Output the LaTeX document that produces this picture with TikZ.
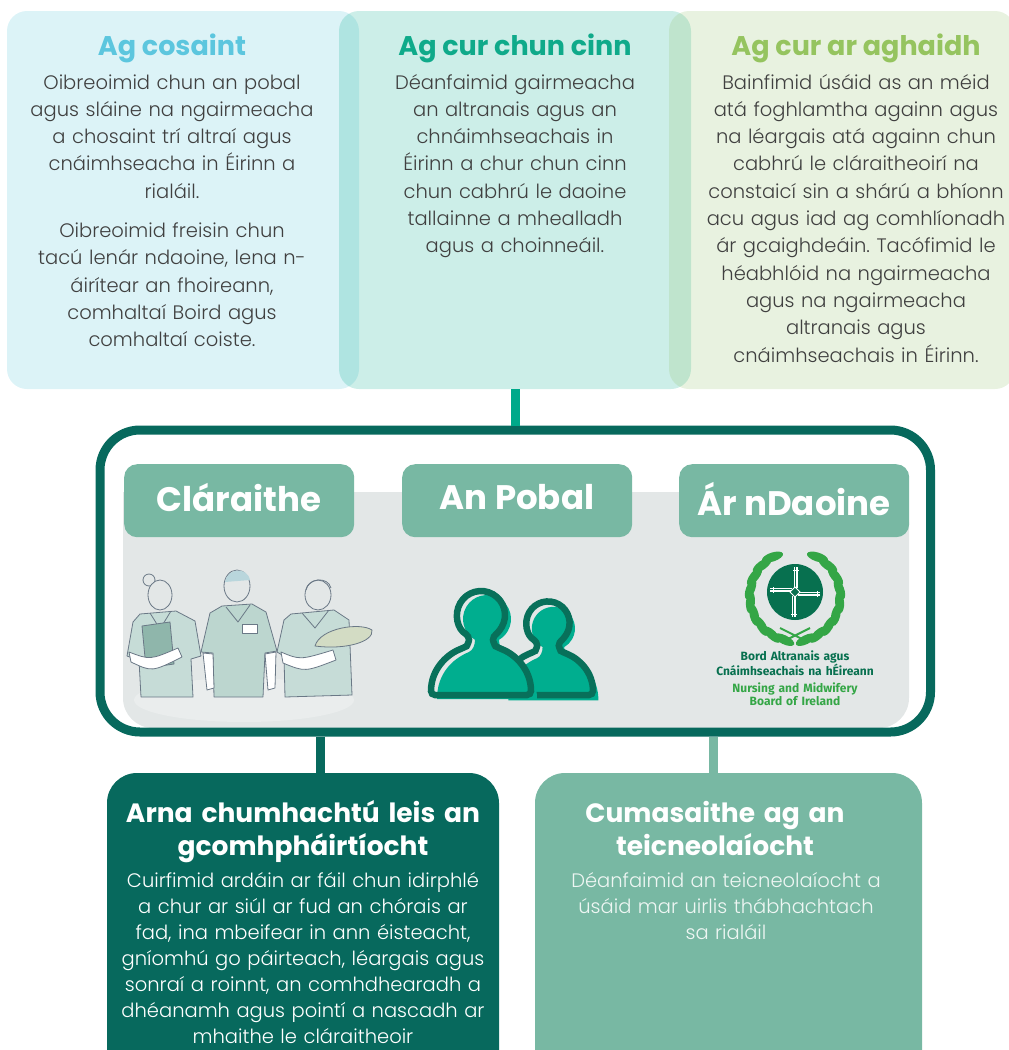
\documentclass[tikz,border=0pt]{standalone}
\usepackage{fontspec}
\setmainfont{Poppins}
\newfontfamily\bodyfont{Poppins}[UprightFont=* Light, BoldFont=* SemiBold]
\newfontfamily\logofont{Fira Sans}
\frenchspacing

\definecolor{darkteal}{HTML}{07695D}
\definecolor{sage}{HTML}{78B8A3}
\definecolor{pobalteal}{HTML}{00AE8F}
\definecolor{poballine}{HTML}{08705A}
\definecolor{cosaintfill}{HTML}{4EC3D8}
\definecolor{cinnfill}{HTML}{00A98A}
\definecolor{aghaidhfill}{HTML}{8DC063}
\definecolor{cosainttitle}{HTML}{5CC6DE}
\definecolor{cinntitle}{HTML}{0FAA8A}
\definecolor{aghaidhtitle}{HTML}{95C45F}
\definecolor{bodygrey}{HTML}{404040}
\definecolor{panelgrey}{HTML}{E3E7E7}
\definecolor{scrub}{HTML}{C6DCD7}
\definecolor{scrubdark}{HTML}{BCD6CF}
\definecolor{inkline}{HTML}{6A7886}
\definecolor{folder}{HTML}{8FB6AB}
\definecolor{babyc}{HTML}{D3DCC4}
\definecolor{hair}{HTML}{B9D6DC}
\definecolor{logogreen}{HTML}{34A646}
\definecolor{logodark}{HTML}{07704F}
\definecolor{paletext}{HTML}{EEF6F3}

\tikzset{
  topbox/.style={rounded corners=20pt, fill opacity=0.2, minimum width=352pt,
    minimum height=378pt, anchor=north west, inner sep=0pt, outer sep=0pt},
  toptitle/.style={font=\bfseries\fontsize{27}{30}\selectfont, anchor=base},
  bodytext/.style={font=\bodyfont\fontsize{19.5}{27.3}\selectfont, text=bodygrey,
    align=center, text width=345pt, anchor=base, inner sep=0pt},
  tab/.style={fill=sage, rounded corners=13pt, minimum width=230pt,
    minimum height=73pt, anchor=north west, inner sep=0pt},
  tabtext/.style={text=white, font=\bfseries\fontsize{34}{36}\selectfont, anchor=base},
  conn/.style={line width=9pt},
  botbox/.style={rounded corners=30pt, anchor=north west, inner sep=0pt,
    outer sep=0pt, minimum height=310pt},
  bottitle/.style={text=white, font=\bfseries\fontsize{26.5}{33}\selectfont,
    align=center, text width=380pt, anchor=base, inner sep=0pt},
  botbody/.style={font=\bodyfont\fontsize{19.5}{26}\selectfont, align=center,
    text width=380pt, anchor=base, inner sep=0pt},
  nurse/.style={draw=inkline, line width=0.8pt, fill=scrub, line join=round},
  nurseline/.style={draw=inkline, line width=0.8pt, line join=round},
  leaf/.style={fill=logogreen},
  logotext/.style={font=\logofont\bfseries\fontsize{12}{13}\selectfont,
    align=center, text width=200pt, anchor=base, inner sep=0pt}
}

\newcommand\personpath{(-50,80) .. controls (-50,55) and (-35,40) .. (-18,33)
  .. controls (-14,31) and (-12,26) .. (-12,20.8)
  arc[start angle=120, end angle=420, radius=24]
  .. controls (12,26) and (14,31) .. (18,33)
  .. controls (35,40) and (50,55) .. (50,80) -- cycle}

\begin{document}
\begin{tikzpicture}[x=1pt, y=-1pt]
  \useasboundingbox (0,0) rectangle (1009,1050);

  % three aims
  \node[topbox, fill=cosaintfill] (cosaint) at (7,11) {};
  \node[topbox, fill=cinnfill] (gcur) at (339,11) {};
  \node[topbox, fill=aghaidhfill, minimum width=346pt] (aghaidh) at (669,11) {};

  \node[toptitle, text=cosainttitle] (cosainttitle) at (172,55) {Ag cosaint};
  \node[toptitle, text=cinntitle] (gcurtitle) at (515,55) {Ag cur chun cinn};
  \node[toptitle, text=aghaidhtitle] (aghaidhtitle) at (856,55) {Ag cur ar aghaidh};

  \node[bodytext] (cosainttext) at (172,89) {Oibreoimid chun an pobal\\
    agus sláine na ngairmeacha\\a chosaint trí altraí agus\\
    cnáimhseacha in Éirinn a\\rialáil.\\[12pt]
    Oibreoimid freisin chun\\tacú lenár ndaoine, lena n-\\
    áirítear an fhoireann,\\comhaltaí Boird agus\\comhaltaí coiste.};
  \node[bodytext] (gcurtext) at (515,89) {Déanfaimid gairmeacha\\
    an altranais agus an\\chnáimhseachais in\\Éirinn a chur chun cinn\\
    chun cabhrú le daoine\\tallainne a mhealladh\\agus a choinneáil.};
  \node[bodytext] (aghaidhtext) at (856,89) {Bainfimid úsáid as an méid\\
    atá foghlamtha againn agus\\na léargais atá againn chun\\
    cabhrú le cláraitheoirí na\\constaicí sin a shárú a bhíonn\\
    acu agus iad ag comhlíonadh\\ár gcaighdeáin. Tacófimid le\\
    héabhlóid na ngairmeacha\\agus na ngairmeacha\\altranais agus\\
    cnáimhseachais in Éirinn.};

  % centre panel
  \fill[panelgrey, rounded corners=30pt] (123,492) -- (123,728) -- (909,728)
    -- (909,492) [sharp corners] -- cycle;
  \node[tab] (claraithe) at (124,464) {};
  \node[tab] (pobal) at (402,464) {};
  \node[tab] (daoine) at (679,464) {};
  \node[tabtext] (claraithetext) at (239,511.7) {Cláraithe};
  \node[tabtext] (pobaltext) at (517,509) {An Pobal};
  \node[tabtext] (daoinetext) at (794,515) {Ár nDaoine};

  % registrants
  \fill[white, opacity=0.25] (244,700) ellipse[x radius=110, y radius=22];
  \draw[nurse] (140,614) -- (176,611) -- (195,621) -- (201,656) -- (191,659)
    -- (193,697) -- (141,697) -- (139,660) -- (127,656) -- (133,622) -- cycle;
  \draw[nurseline] (150,613) -- (160,629) -- (171,611);
  \draw[nurse, fill=panelgrey] (149,580) circle[radius=6];
  \draw[nurse, fill=panelgrey] (160,595) ellipse[x radius=12, y radius=15];
  \draw[nurse, fill=folder] (142,626) -- (170,622) -- (174,664) -- (146,668) -- cycle;
  \draw[nurse, fill=white] (129,652) .. controls (150,660) .. (178,648) -- (182,657)
    .. controls (152,672) .. (131,662) -- cycle;

  \draw[nurse] (291,614) -- (334,610) -- (349,620) -- (352,695) -- (285,697)
    -- (284,656) -- (277,652) -- (284,620) -- cycle;
  \draw[nurseline] (302,613) -- (315,628) -- (329,610);
  \draw[nurse, fill=panelgrey] (318,595) ellipse[x radius=13, y radius=15];
  \draw[nurseline] (306,590) .. controls (308,578) and (328,576) .. (331,588);
  \draw[nurse, fill=babyc] (315,646) .. controls (320,628) and (360,622) .. (372,630)
    .. controls (374,642) and (345,650) .. (315,646) -- cycle;
  \draw[nurse, fill=white] (281,652) .. controls (300,660) .. (333,650) -- (336,660)
    .. controls (305,672) .. (283,663) -- cycle;

  \draw[nurse, fill=scrubdark] (222,606) -- (252,604) -- (266,612) -- (277,651)
    -- (265,653) -- (263,697) -- (214,697) -- (213,653) -- (201,652) -- (210,613) -- cycle;
  \draw[nurseline] (226,607) -- (238,622) -- (250,605);
  \draw[nurse, fill=white] (203,653) -- (213,654) -- (214,688) -- (207,690) -- cycle;
  \draw[nurse, fill=white] (265,654) -- (276,652) -- (275,688) -- (268,690) -- cycle;
  \draw[nurseline, fill=white] (242,624) rectangle (257,633);
  \draw[nurse, fill=panelgrey] (237,586) ellipse[x radius=13, y radius=16];
  \fill[hair] (225,582) .. controls (227,568) and (247,566) .. (250,580) -- cycle;

  % the public
  \begin{scope}[shift={(548,623)}, scale=0.9]
    \fill[pobalteal, shift={(6,6)}] \personpath;
    \draw[poballine, line width=6.5pt, rounded corners=4pt] \personpath;
  \end{scope}
  \begin{scope}[shift={(481,615)}]
    \fill[pobalteal, shift={(6,4)}] \personpath;
    \draw[poballine, line width=6.5pt, rounded corners=4pt] \personpath;
  \end{scope}

  % our people: board logo
  \foreach \a in {104,121,...,240} {
    \fill[leaf, rotate around={-\a-12:({795+45*cos(\a)},{596+45*sin(\a)})}]
      ({795+45*cos(\a)},{596+45*sin(\a)}) ellipse[x radius=4.5, y radius=11];
  }
  \foreach \a in {76,59,...,-60} {
    \fill[leaf, rotate around={-\a+12:({795+45*cos(\a)},{596+45*sin(\a)})}]
      ({795+45*cos(\a)},{596+45*sin(\a)}) ellipse[x radius=4.5, y radius=11];
  }
  \draw[logogreen, line width=2pt] (780,628) -- (808,642) (810,628) -- (782,642);
  \fill[logodark] (795,592) circle[radius=28];
  \foreach \d in {-1.6,0,1.6} {
    \draw[white, line width=0.8pt] (796+\d,588) -- (796+\d,567);
    \draw[white, line width=0.8pt] (794+\d,596) -- (794+\d,617);
    \draw[white, line width=0.8pt] (792,590+\d) -- (770,590+\d);
    \draw[white, line width=0.8pt] (798,594+\d) -- (820,594+\d);
  }
  \draw[white, line width=0.8pt] (793,570) -- (799,570) (791,614) -- (797,614)
    (773,587) -- (773,593) (817,591) -- (817,597);
  \draw[white, line width=0.8pt, fill=logodark] (795,587) -- (800,592) -- (795,597)
    -- (790,592) -- cycle;
  \node[logotext, text=logodark] (logoga) at (795,660.5)
    {Bord Altranais agus\\Cnáimhseachais na hÉireann};
  \node[logotext, text=logogreen] (logoen) at (795,692.7)
    {Nursing and Midwifery\\Board of Ireland};

  \node[draw=darkteal, line width=9pt, rounded corners=40pt, minimum width=830.5pt,
    minimum height=302pt, anchor=north west, inner sep=0pt, outer sep=0pt]
    (hub) at (100,430) {};

  % enablers
  \node[botbox, fill=darkteal, minimum width=392pt] (arna) at (107,773) {};
  \node[botbox, fill=sage, minimum width=387pt] (cumas) at (535,773) {};
  \node[bottitle] (arnatitle) at (303,822) {Arna chumhachtú leis an\\gcomhpháirtíocht};
  \node[botbody, text=white] (arnatext) at (303,887) {Cuirfimid ardáin ar fáil chun idirphlé\\
    a chur ar siúl ar fud an chórais ar\\fad, ina mbeifear in ann éisteacht,\\
    gníomhú go páirteach, léargais agus\\sonraí a roinnt, an comhdhearadh a\\
    dhéanamh agus pointí a nascadh ar\\mhaithe le cláraitheoir};
  \node[bottitle] (cumastitle) at (715,822) {Cumasaithe ag an\\teicneolaíocht};
  \node[botbody, text=paletext] (cumastext) at (726,887) {Déanfaimid an teicneolaíocht a\\
    úsáid mar uirlis thábhachtach\\sa rialáil};

  % connectors
  \coordinate (leftjoin) at (320.5,0);
  \coordinate (rightjoin) at (713.5,0);
  \draw[conn, cinnfill, shorten >=4.5pt] (gcur.south) -- (gcur.south |- hub.north);
  \draw[conn, darkteal, shorten <=4.5pt] (leftjoin |- hub.south) -- (leftjoin |- arna.north);
  \draw[conn, sage, shorten <=4.5pt] (rightjoin |- hub.south) -- (rightjoin |- cumas.north);
\end{tikzpicture}
\end{document}
